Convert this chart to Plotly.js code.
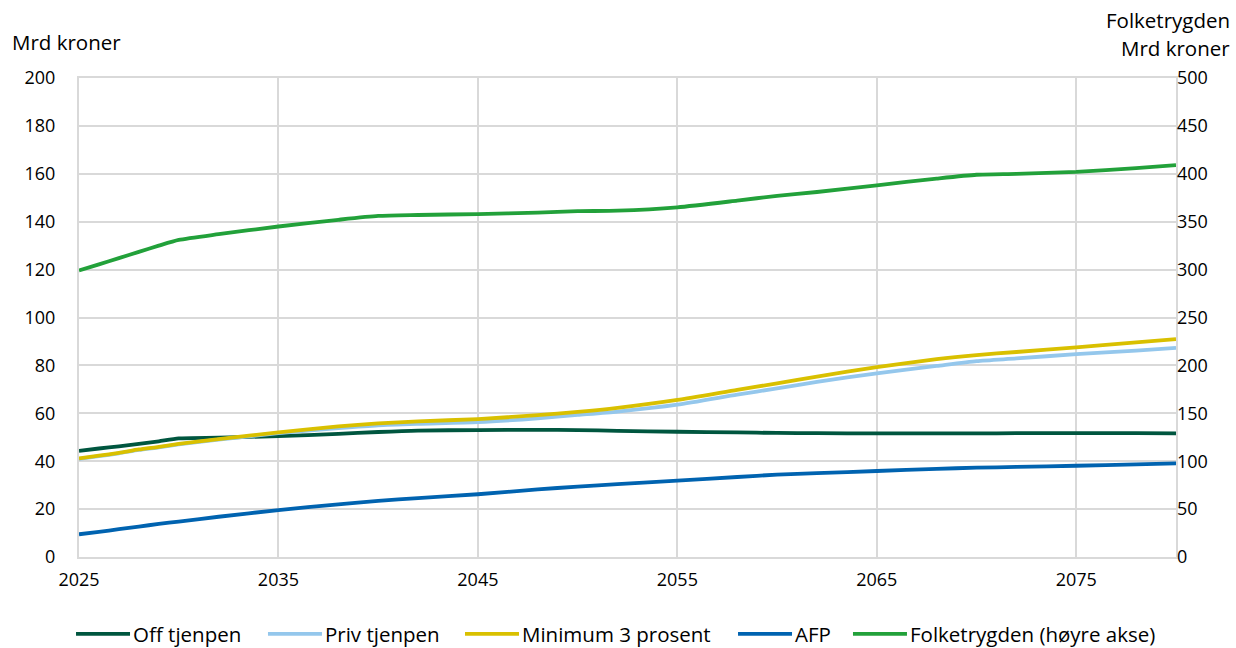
<!DOCTYPE html>
<html>
<head>
<meta charset="utf-8">
<script src="https://cdn.plot.ly/plotly-3.0.1.min.js"></script>
<style>
  html, body { margin: 0; padding: 0; background: #fff; }
  #chart { width: 1236px; height: 648px; }
  /* longer legend swatches */
  #chart .legendlines path { d: path("M1,0h54"); }
</style>
</head>
<body>
<div id="chart"></div>
<script>
// Pensjonsutgifter, mrd kroner
const years = [2025, 2026, 2027, 2028, 2029, 2030, 2032, 2035, 2038, 2040, 2042, 2045, 2048,
               2050, 2052, 2055, 2058, 2060, 2062, 2065, 2068, 2070, 2072, 2075, 2078, 2080];

const offTjenpen = [44.3, 45.3, 46.2, 47.2, 48.3, 49.5, 49.8, 50.5, 51.4, 52.2, 52.8, 53.0, 53.1,
                    53.0, 52.7, 52.3, 52.0, 51.8, 51.7, 51.6, 51.6, 51.6, 51.7, 51.7, 51.7, 51.6];

const privTjenpen = [41.0, 42.1, 43.3, 44.7, 45.8, 47.0, 49.0, 51.7, 53.8, 55.0, 55.6, 56.3, 57.9,
                     59.3, 60.7, 63.6, 67.8, 70.4, 73.1, 76.7, 79.8, 81.8, 82.9, 84.7, 86.2, 87.3];

const minimum3 = [41.2, 42.3, 43.5, 44.9, 46.0, 47.2, 49.2, 52.0, 54.5, 55.8, 56.6, 57.6, 59.2,
                  60.6, 62.3, 65.6, 69.8, 72.5, 75.3, 79.3, 82.6, 84.3, 85.6, 87.5, 89.6, 91.0];

const afp = [9.5, 10.5, 11.6, 12.7, 13.8, 14.8, 16.8, 19.6, 22.0, 23.4, 24.6, 26.2, 28.2,
             29.4, 30.4, 31.9, 33.4, 34.4, 35.0, 35.9, 36.8, 37.3, 37.6, 38.1, 38.7, 39.1];

// Folketrygden på høyre akse
const folketrygden = [299, 305.5, 312, 318.5, 325, 331, 337, 345, 352, 356, 357, 358, 359.5,
                      361, 361.5, 365, 372, 377, 381, 388, 395, 399, 400, 402, 406, 409];

const seriesNames = ['Off tjenpen', 'Priv tjenpen', 'Minimum 3 prosent', 'AFP', 'Folketrygden (høyre akse)'];
const seriesColors = ['#00563f', '#94c7ec', '#d9c000', '#0063b0', '#22a13a'];

const xTicks = [2025, 2035, 2045, 2055, 2065, 2075];
const leftTicks = [0, 20, 40, 60, 80, 100, 120, 140, 160, 180, 200];
const rightTicks = [0, 50, 100, 150, 200, 250, 300, 350, 400, 450, 500];

const FONT = 'Open Sans, Noto Sans, sans-serif';
const TICK_FS = 18;
const TEXT_FS = 20.5;

// one legend per series so every entry sits at its own spot on the bottom row
const legendIds = ['legend', 'legend2', 'legend3', 'legend4', 'legend5'];
const legendX = [0.0607, 0.2160, 0.3754, 0.5963, 0.6893];

function line(y, i, axis) {
  return {
    x: years, y: y, name: seriesNames[i], type: 'scatter', mode: 'lines',
    yaxis: axis || 'y', legend: legendIds[i],
    line: { color: seriesColors[i], width: 3.8, shape: 'spline', smoothing: 0.6 },
    hoverinfo: 'x+y+name'
  };
}

const traces = [
  line(offTjenpen, 0),
  line(privTjenpen, 1),
  line(minimum3, 2),
  line(afp, 3),
  line(folketrygden, 4, 'y2')
];

const gridColor = '#d9d9d9';
const clear = 'rgba(0,0,0,0)';

const layout = {
  width: 1236, height: 648,
  margin: { l: 79, r: 60, t: 78, b: 91, autoexpand: false },
  paper_bgcolor: '#fff', plot_bgcolor: '#fff',
  font: { family: FONT, size: TEXT_FS, color: '#000' },
  showlegend: true,
  xaxis: {
    range: [2025, 2080], tickmode: 'array', tickvals: xTicks, ticktext: xTicks.map(String),
    showgrid: true, gridcolor: gridColor, gridwidth: 2,
    showline: true, linecolor: gridColor, linewidth: 2, mirror: true,
    zeroline: false, ticks: 'outside', ticklen: 5, tickcolor: clear, tickfont: { size: TICK_FS }
  },
  yaxis: {
    range: [0, 200], tickmode: 'array', tickvals: leftTicks,
    showgrid: true, gridcolor: gridColor, gridwidth: 2,
    showline: true, linecolor: gridColor, linewidth: 2, mirror: true,
    zeroline: false, ticks: 'outside', ticklen: 18, tickcolor: clear, tickfont: { size: TICK_FS }
  },
  yaxis2: {
    range: [0, 500], tickmode: 'array', tickvals: rightTicks,
    overlaying: 'y', side: 'right', showgrid: false, zeroline: false,
    showline: false, ticks: '', tickfont: { size: TICK_FS }
  },
  annotations: [
    { text: 'Mrd kroner', xref: 'paper', yref: 'paper', x: -0.0629, y: 1.0752,
      xanchor: 'left', yanchor: 'middle', showarrow: false, font: { size: TEXT_FS } },
    { text: 'Folketrygden', xref: 'paper', yref: 'paper', x: 1.0511, y: 1.1211,
      xanchor: 'right', yanchor: 'middle', showarrow: false, font: { size: TEXT_FS } },
    { text: 'Mrd kroner', xref: 'paper', yref: 'paper', x: 1.0511, y: 1.0626,
      xanchor: 'right', yanchor: 'middle', showarrow: false, font: { size: TEXT_FS } }
  ]
};

legendIds.forEach((id, i) => {
  layout[id] = {
    orientation: 'h', xref: 'container', yref: 'container',
    x: legendX[i], xanchor: 'left', y: 0.0216, yanchor: 'middle',
    font: { family: FONT, size: TEXT_FS, color: '#000' },
    bgcolor: clear, borderwidth: 0, itemwidth: 48
  };
});

function widenSwatches(gd) {
  gd.querySelectorAll('.legendlines path').forEach(p => p.setAttribute('d', 'M1,0h54'));
}

Plotly.newPlot('chart', traces, layout, { displayModeBar: false, staticPlot: true }).then(gd => {
  widenSwatches(gd);
  gd.on('plotly_afterplot', () => widenSwatches(gd));
});
</script>
</body>
</html>
